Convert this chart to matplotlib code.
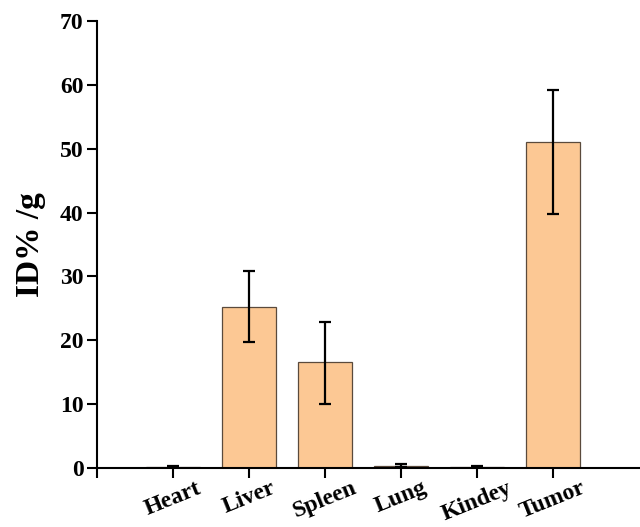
import matplotlib.pyplot as plt
import numpy as np

# organ uptake data
organs = ['Heart', 'Liver', 'Spleen', 'Lung', 'Kindey', 'Tumor']
uptake = [0.15, 25.2, 16.6, 0.35, 0.2, 51.1]
err_low = [0.1, 5.4, 6.6, 0.2, 0.15, 11.3]
err_high = [0.1, 5.6, 6.2, 0.2, 0.15, 8.1]

plt.rcParams['font.family'] = ['Liberation Serif', 'DejaVu Serif']
plt.rcParams['font.weight'] = 'bold'

fig = plt.figure(figsize=(6.4, 5.27), dpi=100)
ax = fig.add_axes([0.152, 0.112, 0.848, 0.848])

x = np.arange(1, len(organs) + 1)
ax.bar(x, uptake, width=0.71, color='#fcc894', edgecolor='#5a4a3c', linewidth=0.9,
       yerr=[err_low, err_high], capsize=4,
       error_kw=dict(ecolor='black', elinewidth=1.6, capthick=1.6))

ax.set_xlim(0, 7.15)
ax.set_ylim(0, 70)
ax.set_yticks(np.arange(0, 71, 10))
ax.set_xticks([0] + list(x))
ax.set_xticklabels([''] + organs, rotation=22, ha='center', fontsize=17, fontweight='bold')
ax.tick_params(axis='y', labelsize=17, direction='out', length=7, width=1.5, pad=3)
ax.tick_params(axis='x', direction='out', length=7, width=1.5, pad=0)
for lbl in ax.get_yticklabels():
    lbl.set_fontweight('bold')

ax.spines['top'].set_visible(False)
ax.spines['right'].set_visible(False)
ax.spines['left'].set_linewidth(1.5)
ax.spines['bottom'].set_linewidth(1.5)

ax.set_ylabel('ID% /g', fontsize=24, fontweight='bold', labelpad=10)

plt.savefig('out.png', dpi=100)
